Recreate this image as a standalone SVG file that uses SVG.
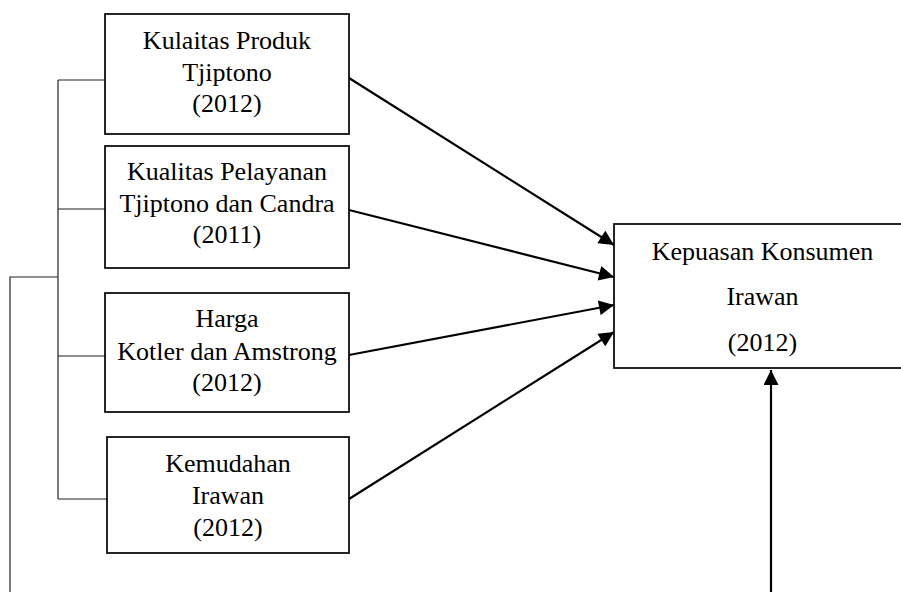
<svg xmlns="http://www.w3.org/2000/svg" width="901" height="592" viewBox="0 0 901 592">
<defs>
<marker id="ah2" viewBox="0 0 10 10" refX="10" refY="5" markerWidth="16" markerHeight="15" markerUnits="userSpaceOnUse" orient="auto">
<path d="M0,0 L10,5 L0,10 z" fill="#000"/>
</marker>
</defs>
<style>
.box{fill:#fff;stroke:#000;stroke-width:1.7}
.t{font-family:"Liberation Serif","Times New Roman",serif;font-size:26px;fill:#000;text-anchor:middle}
.br{fill:none;stroke:#222;stroke-width:1.2}
.ar{fill:none;stroke:#000;stroke-width:2.2;marker-end:url(#ah2)}
</style>
<rect width="901" height="592" fill="#fff"/>
<g id="connectors">
<path class="br" d="M58,80 V499 M58,80 H105 M58,209 H105 M58,356 H105 M58,499 H107 M10,592 V277 H58"/>
<line class="ar" x1="349" y1="78" x2="614" y2="245"/>
<line class="ar" x1="349" y1="210" x2="614" y2="277"/>
<line class="ar" x1="349" y1="355" x2="614" y2="305"/>
<line class="ar" x1="349" y1="499" x2="614" y2="332"/>
<line class="ar" x1="771" y1="592" x2="771" y2="370"/>
</g>
<g id="n1">
<rect class="box" x="105" y="14" width="244" height="120"/>
<text class="t" x="227" y="49">Kulaitas Produk</text>
<text class="t" x="227" y="81">Tjiptono</text>
<text class="t" x="227" y="112">(2012)</text>
</g>
<g id="n2">
<rect class="box" x="105" y="146" width="244" height="122"/>
<text class="t" x="227" y="180">Kualitas Pelayanan</text>
<text class="t" x="227" y="212">Tjiptono dan Candra</text>
<text class="t" x="227" y="243">(2011)</text>
</g>
<g id="n3">
<rect class="box" x="105" y="293" width="244" height="119"/>
<text class="t" x="227" y="327">Harga</text>
<text class="t" x="227" y="360">Kotler dan Amstrong</text>
<text class="t" x="227" y="391">(2012)</text>
</g>
<g id="n4">
<rect class="box" x="107" y="437" width="242" height="116"/>
<text class="t" x="228" y="472">Kemudahan</text>
<text class="t" x="228" y="504">Irawan</text>
<text class="t" x="228" y="536">(2012)</text>
</g>
<g id="n5">
<rect class="box" x="614" y="224" width="297" height="144"/>
<text class="t" x="762.5" y="260">Kepuasan Konsumen</text>
<text class="t" x="762.5" y="305">Irawan</text>
<text class="t" x="762.5" y="351">(2012)</text>
</g>
</svg>
